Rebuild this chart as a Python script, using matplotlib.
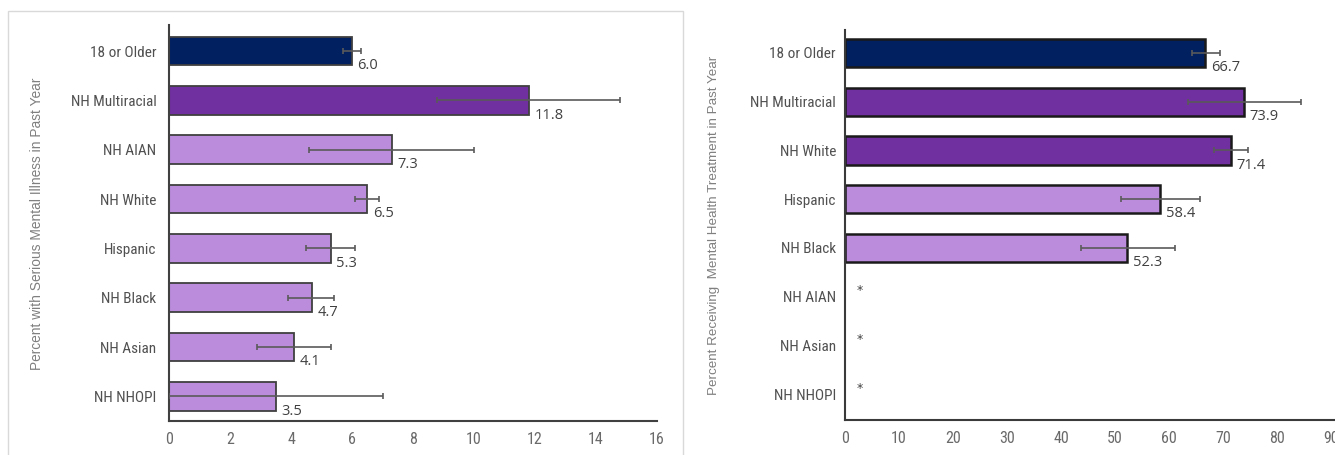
import matplotlib
matplotlib.use("Agg")
import matplotlib.pyplot as plt
from matplotlib import font_manager as fm
from matplotlib.patches import Rectangle

# ---- data ----
smi_groups = ["18 or Older", "NH Multiracial", "NH AIAN", "NH White",
              "Hispanic", "NH Black", "NH Asian", "NH NHOPI"]
smi_values = [6.0, 11.8, 7.3, 6.5, 5.3, 4.7, 4.1, 3.5]
smi_low = [5.7, 8.8, 4.6, 6.1, 4.5, 3.9, 2.9, 0.0]
smi_high = [6.3, 14.8, 10.0, 6.9, 6.1, 5.4, 5.3, 7.0]
smi_colors = ["#002060", "#7030A0", "#BB8CDC", "#BB8CDC",
              "#BB8CDC", "#BB8CDC", "#BB8CDC", "#BB8CDC"]
smi_ticks = [0, 2, 4, 6, 8, 10, 12, 14, 16]

trt_groups = ["18 or Older", "NH Multiracial", "NH White", "Hispanic",
              "NH Black", "NH AIAN", "NH Asian", "NH NHOPI"]
trt_values = [66.7, 73.9, 71.4, 58.4, 52.3, None, None, None]
trt_low = [64.2, 63.6, 68.4, 51.2, 43.7, None, None, None]
trt_high = [69.4, 84.4, 74.7, 65.8, 61.1, None, None, None]
trt_colors = ["#002060", "#7030A0", "#7030A0", "#BB8CDC", "#BB8CDC",
              None, None, None]
trt_ticks = [0, 10, 20, 30, 40, 50, 60, 70, 80, 90]


def narrow_font(size):
    """A condensed sans face if one is installed, else a plain one."""
    entries = fm.fontManager.ttflist
    names = {f.name for f in entries}
    for fam in ("Liberation Sans Narrow", "Arial Narrow", "Roboto Condensed",
                "Open Sans Condensed", "DejaVu Sans Condensed",
                "Noto Sans Condensed"):
        if fam in names:
            return fm.FontProperties(family=fam, size=size)
    for f in entries:
        st = str(f.stretch).lower()
        if (("condensed" in st and "extra" not in st and "ultra" not in st)
                or "Condensed" in f.name or "Narrow" in f.name):
            if f.style == "normal" and f.weight in (400, "normal", "regular"):
                return fm.FontProperties(fname=f.fname, size=size)
    return fm.FontProperties(family="Liberation Sans", size=size - 1.0)


CAT_FP = narrow_font(11)
TICK_FP = narrow_font(11.5)
LABEL_FONT = ["Open Sans", "DejaVu Sans"]

fig = plt.figure(figsize=(13.35, 4.55), dpi=100)

# light frame around the left chart
fig.add_artist(Rectangle((8 / 1335, -0.01), (683 - 8) / 1335, 1 - 11 / 455 + 0.01,
                         transform=fig.transFigure, fill=False,
                         edgecolor="#d9d9d9", linewidth=1.0))


def draw_panel(ax, groups, values, lows, highs, colors, ticks, xmax,
               edge, edge_lw, spine_color, ylim, ypad):
    pos = list(range(len(groups)))
    for i, (v, lo, hi, c) in enumerate(zip(values, lows, highs, colors)):
        if v is None:
            ax.text(2.7 * xmax / 90, i - 0.12, "*", ha="center", va="center",
                    fontsize=9, color="#404040")
            continue
        ax.barh(i, v, height=0.58, color=c, edgecolor=edge, linewidth=edge_lw,
                zorder=2)
        ax.errorbar(v, i, xerr=[[v - lo], [hi - v]], fmt="none",
                    ecolor="#5a5a5a", elinewidth=1.2, capsize=2.5,
                    capthick=1.2, zorder=3)
        ax.annotate(f"{v:.1f}", xy=(v, i + 0.3), xytext=(4, 0),
                    textcoords="offset points", ha="left", va="center",
                    fontsize=10.5, color="#404040", family=LABEL_FONT,
                    zorder=4)
    ax.set_yticks(pos)
    ax.set_yticklabels(groups, fontproperties=CAT_FP, color="#505050")
    ax.set_ylim(*ylim)
    ax.set_xlim(0, xmax)
    ax.set_xticks(ticks)
    ax.set_xticklabels([str(t) for t in ticks], fontproperties=TICK_FP,
                       color="#6a6a6a")
    ax.tick_params(length=0)
    ax.tick_params(axis="y", pad=ypad)
    ax.tick_params(axis="x", pad=8)
    for s in ("top", "right"):
        ax.spines[s].set_visible(False)
    for s in ("left", "bottom"):
        ax.spines[s].set_color(spine_color)
        ax.spines[s].set_linewidth(1.5)
    ax.set_facecolor("none")


ax1 = fig.add_axes([169 / 1335, 1 - 421 / 455, (657 - 169) / 1335,
                    (421 - 25) / 455])
draw_panel(ax1, smi_groups, smi_values, smi_low, smi_high, smi_colors,
           smi_ticks, 16, "#404040", 1.3, "#404040", (7.5, -0.53), 9)

ax2 = fig.add_axes([845 / 1335, 1 - 420 / 455, (1331 - 845) / 1335,
                    (420 - 30) / 455])
draw_panel(ax2, trt_groups, trt_values, trt_low, trt_high, trt_colors,
           trt_ticks, 90, "#1a1a1a", 1.8, "#3a3a3a", (7.53, -0.47), 6.5)
ax2.spines["bottom"].set_bounds(0, 92)
ax2.spines["bottom"].set_clip_on(False)

fig.text(37 / 1335, 1 - 224 / 455,
         "Percent with Serious Mental Illness in Past Year",
         rotation=90, ha="center", va="center", fontsize=9.9,
         color="#7f7f7f", family=["Liberation Sans", "DejaVu Sans"])
fig.text(714 / 1335, 1 - 225 / 455,
         "Percent Receiving  Mental Health Treatment in Past Year",
         rotation=90, ha="center", va="center", fontsize=9.6,
         color="#7f7f7f", family=["Liberation Sans", "DejaVu Sans"])

fig.savefig("out.png", dpi=100, facecolor="white")
